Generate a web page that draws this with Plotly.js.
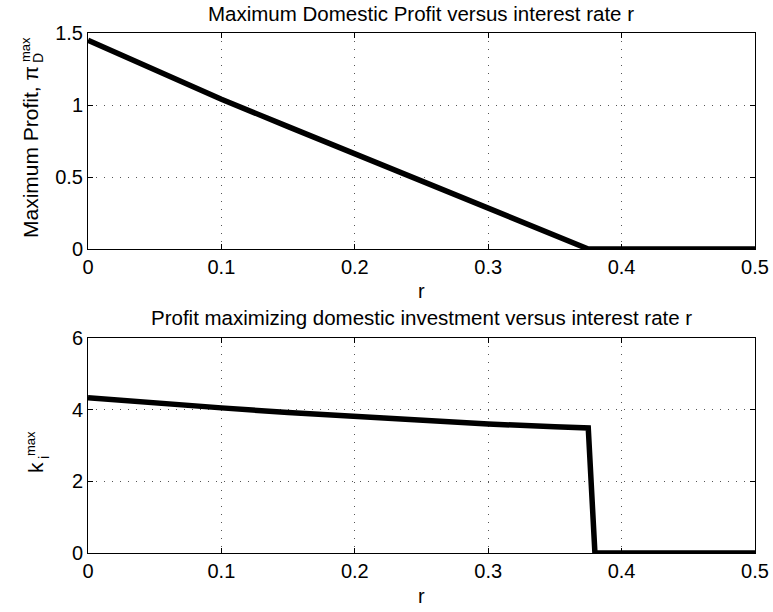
<!DOCTYPE html>
<html>
<head>
<meta charset="utf-8">
<script src="https://cdn.plot.ly/plotly-3.0.1.min.js"></script>
<style>
  html, body { margin: 0; padding: 0; background: #fff; }
  #chart { width: 773px; height: 612px; }
</style>
</head>
<body>
<div id="chart"></div>
<script>
// Interest rate grid
const rate = [0, 0.05, 0.1, 0.15, 0.2, 0.25, 0.3, 0.35, 0.375, 0.38, 0.4, 0.45, 0.5];

// Maximum domestic profit at each rate
const maxProfit = [1.45, 1.24, 1.04, 0.85, 0.66, 0.47, 0.28, 0.10, 0.0, 0.0, 0.0, 0.0, 0.0];

// Profit-maximizing domestic investment at each rate
const maxInvestment = [4.33, 4.18, 4.05, 3.92, 3.81, 3.70, 3.60, 3.52, 3.49, 0.0, 0.0, 0.0, 0.0];

const xTicks = [0, 0.1, 0.2, 0.3, 0.4, 0.5];
const xTickText = ['0', '0.1', '0.2', '0.3', '0.4', '0.5'];
const topTicks = [0, 0.5, 1, 1.5];
const topTickText = ['0', '0.5', '1', '1.5'];
const bottomTicks = [0, 2, 4, 6];
const bottomTickText = ['0', '2', '4', '6'];

const W = 773, H = 612;
const font = { family: 'Liberation Sans, Arial, sans-serif', color: '#000' };
const f = (size) => Object.assign({ size: size }, font);
// pixel position -> paper fraction (margins are zero)
const px = (v) => v / W;
const py = (v) => 1 - v / H;

function axisStyle(extra) {
  return Object.assign({
    showline: true, linecolor: '#000', linewidth: 1, mirror: 'ticks',
    ticks: 'inside', ticklen: 5, tickcolor: '#000', tickwidth: 1,
    showgrid: true, gridcolor: '#555', gridwidth: 1, griddash: '1px,7px',
    zeroline: false, tickmode: 'array',
    tickfont: f(20),
    fixedrange: true
  }, extra);
}

const traces = [
  { x: rate, y: maxProfit, xaxis: 'x', yaxis: 'y', mode: 'lines',
    line: { color: '#000', width: 5.5 }, hoverinfo: 'skip' },
  { x: rate, y: maxInvestment, xaxis: 'x2', yaxis: 'y2', mode: 'lines',
    line: { color: '#000', width: 5.5 }, hoverinfo: 'skip' }
];

function label(text, x, y, size, angle, extra) {
  return Object.assign({
    text: text, xref: 'paper', yref: 'paper', x: px(x), y: py(y),
    xanchor: 'center', yanchor: 'middle', showarrow: false,
    textangle: angle || 0, font: f(size)
  }, extra || {});
}

const layout = {
  width: W, height: H,
  margin: { l: 0, r: 0, t: 0, b: 0 },
  paper_bgcolor: '#fff', plot_bgcolor: '#fff',
  showlegend: false,
  font: font,
  xaxis: axisStyle({ domain: [px(88), px(755)], range: [0, 0.5], anchor: 'y',
    tickvals: xTicks, ticktext: xTickText }),
  yaxis: axisStyle({ domain: [py(249), py(33)], range: [0, 1.5], anchor: 'x',
    tickvals: topTicks, ticktext: topTickText }),
  xaxis2: axisStyle({ domain: [px(88), px(755)], range: [0, 0.5], anchor: 'y2',
    tickvals: xTicks, ticktext: xTickText }),
  yaxis2: axisStyle({ domain: [py(553), py(338)], range: [0, 6], anchor: 'x2',
    tickvals: bottomTicks, ticktext: bottomTickText }),
  annotations: [
    // subplot titles
    label('Maximum Domestic Profit versus interest rate r', 421, 13, 20.5),
    label('Profit maximizing domestic investment versus interest rate r', 422, 317, 20.5),
    // x-axis labels
    label('r', 421, 291, 20),
    label('r', 421, 596, 20),
    // top y-axis label with stacked super/subscript
    label('Maximum Profit, π', 30, 152, 21, -90),
    label('max', 26, 49, 13, -90),
    label('D', 38, 58, 14, -90),
    // bottom y-axis label with stacked super/subscript
    label('k', 36, 468, 21, -90),
    label('max', 30, 443, 13, -90),
    label('i', 44, 458, 14, -90)
  ]
};

Plotly.newPlot('chart', traces, layout, { staticPlot: true, displayModeBar: false });
</script>
</body>
</html>
